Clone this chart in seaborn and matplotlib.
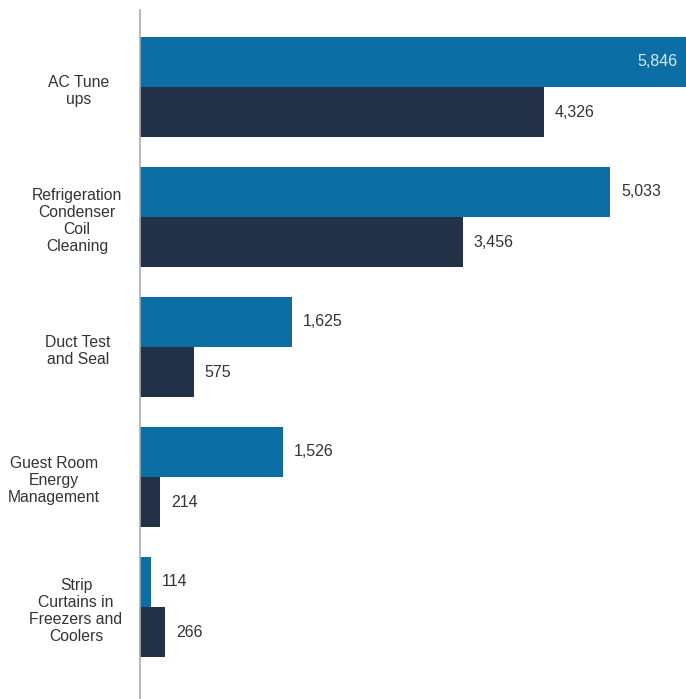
import matplotlib
matplotlib.use("Agg")
import matplotlib.pyplot as plt
import matplotlib.transforms as mtransforms
import seaborn as sns
import pandas as pd

categories = ["AC Tune\nups", "Refrigeration\nCondenser\nCoil\nCleaning", "Duct Test\nand Seal",
              "Guest Room\nEnergy\nManagement", "Strip\nCurtains in\nFreezers and\nCoolers"]
series_names = ["Series 1", "Series 2"]
values_1 = [5846, 5033, 1625, 1526, 114]
values_2 = [4326, 3456, 575, 214, 266]
colors = ["#0b6fa5", "#243249"]
label_x_px = [79, 77, 78, 54, 76]

df = pd.DataFrame({
    "category": categories * 2,
    "series": [series_names[0]] * len(categories) + [series_names[1]] * len(categories),
    "value": values_1 + values_2,
})

sns.set_theme(style="white")
plt.rcParams["font.family"] = ["Liberation Sans", "DejaVu Sans"]

fig = plt.figure(figsize=(6.86, 6.99), dpi=100)
ax = fig.add_axes([140 / 686, 0.0, 1 - 140 / 686, 1 - 10 / 699])
sns.barplot(data=df, y="category", x="value", hue="series", palette=colors,
            order=categories, hue_order=series_names, width=0.77, orient="h",
            legend=False, ax=ax, saturation=1, linewidth=0)

xmax = 5846
ax.set_xlim(0, xmax)
ax.set_ylim(4 + 92 / 130, -77 / 130)
ax.set_xlabel("")
ax.set_ylabel("")
ax.set_xticks([])
ax.tick_params(axis="y", length=0, pad=0)
ax.set_yticklabels([])
for s in ["top", "right", "bottom"]:
    ax.spines[s].set_visible(False)
ax.spines["left"].set_color("#aaaaaa")
ax.spines["left"].set_linewidth(1.2)

trans = mtransforms.blended_transform_factory(fig.transFigure, ax.transData)
for i, cat in enumerate(categories):
    ax.text(label_x_px[i] / 686, i + 0.03, cat, transform=trans, ha="center", va="center",
            fontsize=11.3, color="#333333", linespacing=1.17, clip_on=False)

for container in ax.containers:
    for bar in container:
        w = bar.get_width()
        yc = bar.get_y() + bar.get_height() / 2
        if w > xmax * 0.95:
            ax.text(w - 90, yc, f"{int(w):,}", ha="right", va="center", fontsize=11.5, color="#dde8f0")
        else:
            ax.text(w + 118, yc, f"{int(w):,}", ha="left", va="center", fontsize=11.5, color="#333333")

fig.savefig("out.png", dpi=100)
